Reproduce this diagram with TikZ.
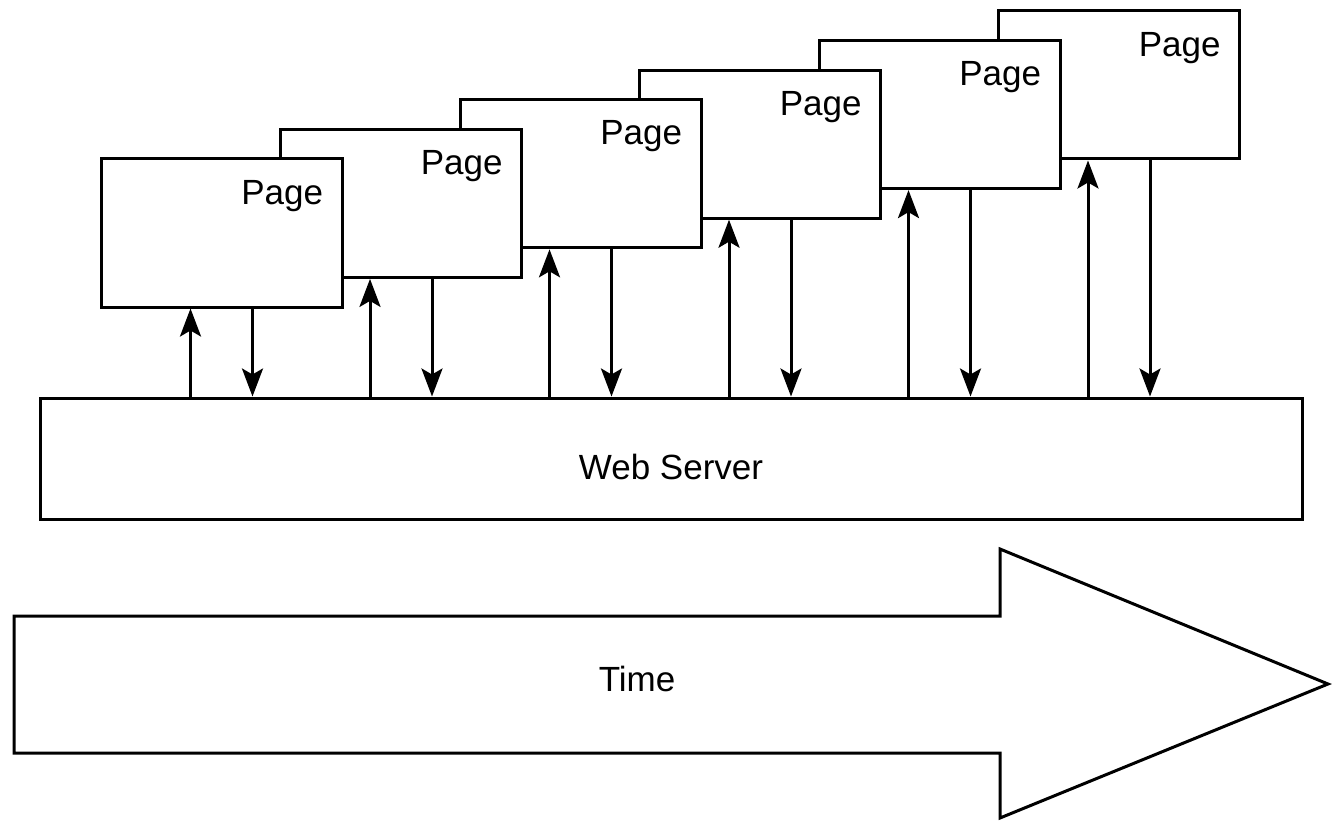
\documentclass[tikz,border=0pt]{standalone}
\usepackage{fontspec}
\setmainfont{Liberation Sans}
\usetikzlibrary{arrows.meta}

\begin{document}
\begin{tikzpicture}[x=1pt, y=-1pt, line width=3pt, font=\fontsize{35}{40}\selectfont,
  page/.style = {draw, fill=white, minimum width=241pt, minimum height=148pt, inner sep=0pt,
    label={[anchor=north east, inner sep=0pt, xshift=-19pt, yshift=-21pt]north east:Page}},
  server/.style = {draw, minimum width=1262pt, minimum height=121pt},
  call/.style = {-{Stealth[length=28pt, width=21pt, inset=6pt]}}]
\useasboundingbox (0,0) rectangle (1335,821);
\node[page] (p6) at (1119,85) {};
\node[page] (p5) at (939.5,114.6) {};
\node[page] (p4) at (760,144.2) {};
\node[page] (p3) at (580.5,173.8) {};
\node[page] (p2) at (401,203.4) {};
\node[page] (p1) at (221.5,233) {};
\node[server, label={[yshift=-8pt]center:Web Server}] (ws) at (671,458.5) {};
\draw[call] ([xshift=-31pt]p1.south |- ws.north) -- ([xshift=-31pt]p1.south);
\draw[call] ([xshift=31pt]p1.south) -- ([xshift=31pt]p1.south |- ws.north);
\draw[call] ([xshift=-31pt]p2.south |- ws.north) -- ([xshift=-31pt]p2.south);
\draw[call] ([xshift=31pt]p2.south) -- ([xshift=31pt]p2.south |- ws.north);
\draw[call] ([xshift=-31pt]p3.south |- ws.north) -- ([xshift=-31pt]p3.south);
\draw[call] ([xshift=31pt]p3.south) -- ([xshift=31pt]p3.south |- ws.north);
\draw[call] ([xshift=-31pt]p4.south |- ws.north) -- ([xshift=-31pt]p4.south);
\draw[call] ([xshift=31pt]p4.south) -- ([xshift=31pt]p4.south |- ws.north);
\draw[call] ([xshift=-31pt]p5.south |- ws.north) -- ([xshift=-31pt]p5.south);
\draw[call] ([xshift=31pt]p5.south) -- ([xshift=31pt]p5.south |- ws.north);
\draw[call] ([xshift=-31pt]p6.south |- ws.north) -- ([xshift=-31pt]p6.south);
\draw[call] ([xshift=31pt]p6.south) -- ([xshift=31pt]p6.south |- ws.north);
\draw (14,616) -- (1000,616) -- (1000,549) -- (1328,684) -- (1000,818) -- (1000,753) -- (14,753) -- cycle;
\node (time) at (637,679) {Time};
\end{tikzpicture}
\end{document}
